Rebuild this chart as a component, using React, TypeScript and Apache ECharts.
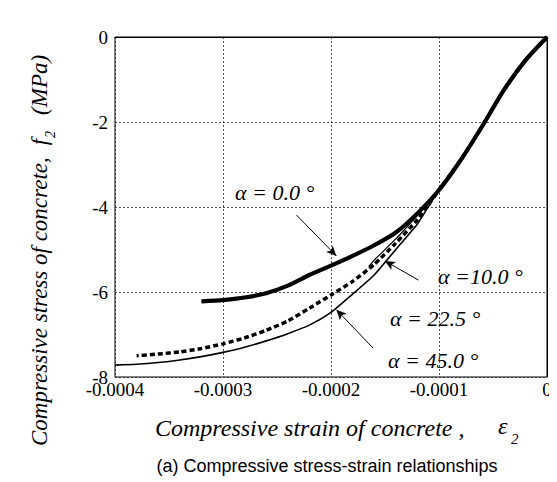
import React, { useEffect, useRef } from "react";
import * as echarts from "echarts";

// Strain (x) and stress (y, MPa)
const strain00 = [0, -0.00002, -0.00004, -0.00006, -0.00008, -0.0001, -0.00012, -0.00014, -0.00016, -0.00018, -0.0002, -0.00022, -0.00024, -0.00026, -0.00028, -0.0003, -0.00032];
const stress00 = [0, -0.55, -1.25, -2.1, -2.9, -3.6, -4.15, -4.6, -4.9, -5.15, -5.38, -5.6, -5.85, -6.03, -6.13, -6.19, -6.22];

const strain10 = [0, -0.00002, -0.00004, -0.00006, -0.00008, -0.0001, -0.00011, -0.00012, -0.00014, -0.00016, -0.000165];
const stress10 = [0, -0.55, -1.25, -2.1, -2.9, -3.6, -3.9, -4.2, -4.75, -5.25, -5.4];

const strain225 = [0, -0.00002, -0.00004, -0.00006, -0.00008, -0.0001, -0.00011, -0.00012, -0.00014, -0.00016, -0.00018, -0.0002, -0.00022, -0.00024, -0.00026, -0.00028, -0.0003, -0.00032, -0.00034, -0.00036, -0.00038];
const stress225 = [0, -0.55, -1.25, -2.1, -2.9, -3.6, -3.95, -4.3, -4.85, -5.35, -5.75, -6.07, -6.38, -6.68, -6.9, -7.08, -7.22, -7.33, -7.41, -7.46, -7.5];

const strain45 = [0, -0.00002, -0.00004, -0.00006, -0.00008, -0.0001, -0.00011, -0.00012, -0.00014, -0.00016, -0.00018, -0.0002, -0.00022, -0.00024, -0.00026, -0.00028, -0.0003, -0.00032, -0.00034, -0.00036, -0.00038, -0.0004];
const stress45 = [0, -0.55, -1.25, -2.1, -2.9, -3.6, -4.0, -4.4, -5.0, -5.6, -6.05, -6.48, -6.78, -6.98, -7.15, -7.3, -7.42, -7.52, -7.6, -7.66, -7.7, -7.72];

const xTicks = [-0.0004, -0.0003, -0.0002, -0.0001, 0];
const yTicks = [-8, -6, -4, -2, 0];

// Arrow annotations: [tailStrain, tailStress, headStrain, headStress]
const arrows = [
  [-0.000232, -4.19, -0.000195, -5.15],
  [-0.000119, -5.72, -0.00015, -5.27],
  [-0.000161, -7.32, -0.000195, -6.42],
];

const labels = ["α = 0.0 °", "α =10.0 °", "α = 22.5 °", "α = 45.0 °"];

const pair = (xs: number[], ys: number[]) => xs.map((x, i) => [x, ys[i]]);

const SERIF = "'Liberation Serif', 'Times New Roman', serif";
const SANS = "'Liberation Sans', Arial, sans-serif";

function measure(text: string, size: number): number {
  const c = document.createElement("canvas").getContext("2d");
  if (!c) return text.length * size * 0.45;
  c.font = `italic ${size}px 'Liberation Serif'`;
  return c.measureText(text).width;
}

export default function App() {
  const ref = useRef<HTMLDivElement>(null);
  useEffect(() => {
    if (!ref.current) return;
    const chart = echarts.init(ref.current, null, { renderer: "svg" });
    const italic = { fontFamily: SERIF, fontStyle: "italic" as const, fill: "#000" };
    const annot = (t: string, x: number, y: number) => ({
      type: "text",
      x,
      y,
      style: { ...italic, text: t, fontSize: 22, verticalAlign: "middle" },
    });
    const yMain = "Compressive stress of concrete,";
    const ySize = 23;
    const wMain = measure(yMain, ySize);
    const fX = wMain + 12;
    const wF = measure("f", ySize);
    const mpaX = fX + wF + 24;
    chart.setOption({
      animation: false,
      backgroundColor: "#fff",
      grid: { left: 107, right: 18, top: 29, bottom: 113, show: true, borderColor: "#000", borderWidth: 1 },
      xAxis: {
        type: "value",
        min: xTicks[0],
        max: xTicks[xTicks.length - 1],
        interval: 0.0001,
        axisLine: { show: true, lineStyle: { color: "#000", width: 1 } },
        axisTick: { show: false },
        axisLabel: {
          color: "#000",
          fontFamily: SERIF,
          fontSize: 19,
          margin: 3,
          formatter: (v: number) => (Math.abs(v) < 1e-12 ? "0" : v.toFixed(4)),
        },
        splitLine: { show: true, lineStyle: { color: "#222", width: 0.8, type: [2, 2] } },
      },
      yAxis: {
        type: "value",
        min: yTicks[0],
        max: yTicks[yTicks.length - 1],
        interval: 2,
        axisLine: { show: true, lineStyle: { color: "#000", width: 1 } },
        axisTick: { show: false },
        axisLabel: { color: "#000", fontFamily: SERIF, fontSize: 19, margin: 7 },
        splitLine: { show: true, lineStyle: { color: "#222", width: 0.8, type: [2, 2] } },
      },
      series: [
        {
          type: "line",
          data: pair(strain45, stress45),
          smooth: 0.2,
          symbol: "none",
          lineStyle: { color: "#000", width: 1.6 },
          z: 2,
        },
        {
          type: "line",
          data: pair(strain225, stress225),
          smooth: 0.2,
          symbol: "none",
          lineStyle: { color: "#000", width: 3.5, type: [5, 3] },
          z: 3,
        },
        {
          type: "line",
          data: pair(strain10, stress10),
          smooth: 0.2,
          symbol: "none",
          lineStyle: { color: "#000", width: 1.2 },
          z: 4,
        },
        {
          type: "line",
          data: pair(strain00, stress00),
          smooth: 0.2,
          symbol: "none",
          lineStyle: { color: "#000", width: 4.2 },
          z: 5,
          markLine: {
            silent: true,
            symbol: ["none", "arrow"],
            symbolSize: [7, 10],
            label: { show: false },
            lineStyle: { color: "#000", width: 1, type: "solid" },
            data: arrows.map((a) => [{ coord: [a[0], a[1]] }, { coord: [a[2], a[3]] }]),
          },
        },
      ],
      graphic: [
        annot(labels[0], 227, 184),
        annot(labels[1], 430, 268),
        annot(labels[2], 382, 310),
        annot(labels[3], 380, 352),
        {
          type: "text",
          x: 147,
          y: 420,
          style: { ...italic, text: "Compressive strain of concrete ,", fontSize: 24, verticalAlign: "middle" },
        },
        { type: "text", x: 490, y: 418, style: { ...italic, text: "ε", fontSize: 24, verticalAlign: "middle" } },
        { type: "text", x: 503, y: 431, style: { ...italic, text: "2", fontSize: 15, verticalAlign: "middle" } },
        {
          type: "group",
          x: 31,
          y: 438,
          rotation: Math.PI / 2,
          children: [
            { type: "text", x: 0, y: 0, style: { ...italic, text: yMain, fontSize: ySize, verticalAlign: "middle" } },
            { type: "text", x: fX, y: 0, style: { ...italic, text: "f", fontSize: ySize, verticalAlign: "middle" } },
            { type: "text", x: fX + wF + 1, y: 11, style: { ...italic, text: "2", fontSize: 14, verticalAlign: "middle" } },
            { type: "text", x: mpaX, y: 0, style: { ...italic, text: "(MPa)", fontSize: ySize, verticalAlign: "middle" } },
          ],
        },
        {
          type: "text",
          x: 319,
          y: 458,
          style: { text: "(a) Compressive stress-strain relationships", fontFamily: SANS, fontSize: 18, fill: "#000", align: "center", verticalAlign: "middle" },
        },
      ],
    });
    return () => chart.dispose();
  }, []);
  return <div ref={ref} style={{ width: 557, height: 482 }} />;
}
